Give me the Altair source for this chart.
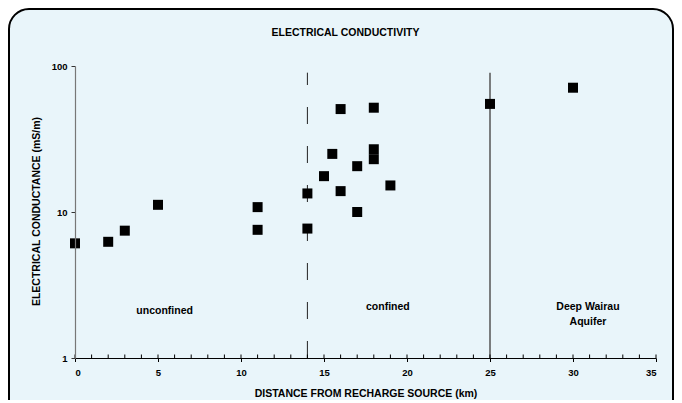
import altair as alt
import pandas as pd

# ---- data ----
dist_km = [0, 2, 3, 5, 11, 11, 14, 14, 15, 15.5, 16, 16, 17, 17, 18, 18, 18, 19, 25, 30]
cond_mSm = [6.1, 6.25, 7.45, 11.2, 10.8, 7.55, 13.4, 7.7, 17.6, 25, 50.7, 13.9, 20.6, 10.0,
            51.8, 26.9, 23.0, 15.2, 55, 71]

zone_labels = ["unconfined", "confined", "Deep Wairau", "Aquifer"]
zone_label_x = [5.4, 18.85, 30.9, 30.9]
zone_label_y = [2.09, 2.25, 2.25, 1.76]

boundary_dashed_x = [14]
boundary_solid_x = [25]
boundary_bottom = 1
boundary_top = 90

x_ticks_major = [0, 5, 10, 15, 20, 25, 30, 35]
x_ticks_minor = list(range(0, 36))
y_ticks = [1, 10, 100]

chart_title = ["ELECTRICAL CONDUCTIVITY"]

W, H = 581, 292
FONT = "Liberation Sans"

pts = pd.DataFrame({"x": dist_km, "y": cond_mSm})
labels = pd.DataFrame({"x": zone_label_x, "y": zone_label_y, "t": zone_labels})
dashed = pd.DataFrame({"x": boundary_dashed_x, "y": [boundary_bottom], "y2": [boundary_top]})
solid = pd.DataFrame({"x": boundary_solid_x, "y": [boundary_bottom], "y2": [boundary_top]})
minor = pd.DataFrame({"x": x_ticks_minor})
frame_df = pd.DataFrame({"k": [0]})
title_df = pd.DataFrame({"t": chart_title})

xscale = alt.Scale(domain=[0, 35], nice=False, zero=False)
yscale = alt.Scale(type="log", domain=[1, 100], nice=False)

frame = alt.Chart(frame_df).mark_rect(
    fill="#E9F5FA", stroke="#000000", strokeWidth=2, cornerRadius=20
).encode(
    x=alt.value(-66), x2=alt.value(598), y=alt.value(-57), y2=alt.value(420)
)

title_mark = alt.Chart(title_df).mark_text(
    font=FONT, fontSize=10.5, fontWeight="bold", color="#000000",
    baseline="middle", align="center"
).encode(
    x=alt.value(270.5), y=alt.value(-33.5), text="t:N"
)

dash_rule = alt.Chart(dashed).mark_rule(
    color="#222222", strokeWidth=1, strokeDash=[17, 22]
).encode(
    x=alt.X("x:Q", scale=xscale),
    y=alt.Y("y:Q", scale=yscale),
    y2="y2:Q",
)

solid_rule = alt.Chart(solid).mark_rule(color="#555555", strokeWidth=1.5).encode(
    x=alt.X("x:Q", scale=xscale),
    y=alt.Y("y:Q", scale=yscale),
    y2="y2:Q",
)

minor_ticks = alt.Chart(minor).mark_rule(color="#000000", strokeWidth=1).encode(
    x=alt.X("x:Q", scale=xscale),
    y=alt.value(H - 3.5),
    y2=alt.value(H),
)

points = alt.Chart(pts).mark_square(size=100, color="#000000", opacity=1).encode(
    x=alt.X(
        "x:Q", scale=xscale,
        axis=alt.Axis(
            title="DISTANCE FROM RECHARGE SOURCE (km)",
            values=x_ticks_major, format="d",
            grid=False, domainColor="#000000", domainWidth=1.2,
            tickColor="#000000", tickSize=3.5, tickWidth=1,
            labelFont=FONT, labelFontSize=9.5, labelFontWeight="bold", labelColor="#000000",
            labelPadding=6,
            titleFont=FONT, titleFontSize=10.5, titleFontWeight="bold", titleColor="#000000",
            titleY=38, titleBaseline="alphabetic",
            zindex=1,
        ),
    ),
    y=alt.Y(
        "y:Q", scale=yscale,
        axis=alt.Axis(
            title="ELECTRICAL CONDUCTANCE (mS/m)",
            values=y_ticks, format="d",
            grid=False, domainColor="#777777", domainWidth=1.2,
            tickColor="#333333", tickSize=4, tickWidth=1,
            labelFont=FONT, labelFontSize=9.5, labelFontWeight="bold", labelColor="#000000",
            labelPadding=4,
            titleFont=FONT, titleFontSize=10.5, titleFontWeight="bold", titleColor="#000000",
            titleAngle=270, titleAlign="center", titleBaseline="middle",
            titleX=-39, titleY=145,
            zindex=1,
        ),
    ),
)

texts = alt.Chart(labels).mark_text(
    font=FONT, fontSize=10.5, fontWeight="bold", color="#000000", baseline="middle"
).encode(
    x=alt.X("x:Q", scale=xscale),
    y=alt.Y("y:Q", scale=yscale),
    text="t:N",
)

chart = alt.layer(frame, title_mark, solid_rule, dash_rule, minor_ticks, points, texts).properties(
    width=W,
    height=H,
    autosize=alt.AutoSizeParams(type="none"),
    padding={"left": 67, "top": 58, "right": 18, "bottom": 42},
    background="#FFFFFF",
).configure_view(strokeWidth=0)

chart.save("out.html", embed_options={"renderer": "svg", "actions": False})
